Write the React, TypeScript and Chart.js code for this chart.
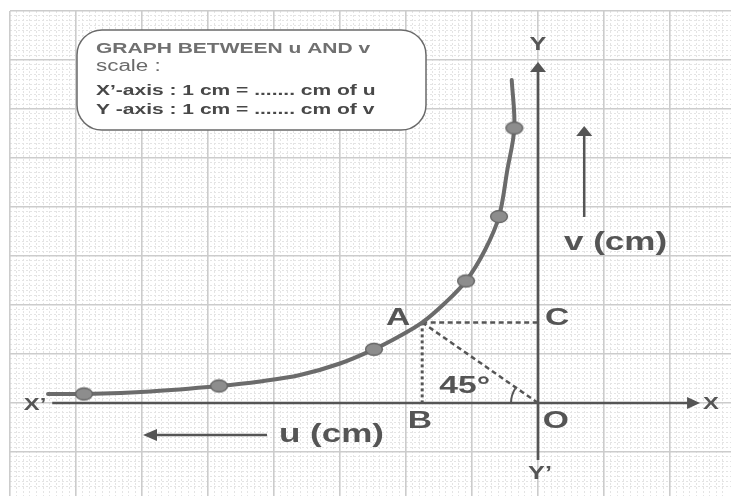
import { useEffect, useRef } from "react";
import { Chart, registerables } from "chart.js";

Chart.register(...registerables);

// ---- axis ranges (1 unit = one major grid square) ----
const X_MIN = -8;
const X_MAX = 2.924;
const Y_MIN = -1.898;
const Y_MAX = 8;

// ---- the u–v curve ----
const curveU = [-7.424, -6.879, -5.879, -4.833, -4.212, -3.606, -3.0, -2.485, -2.121, -1.758, -1.409, -1.091, -0.803, -0.591, -0.465, -0.359, -0.398];
const curveV = [0.184, 0.184, 0.235, 0.347, 0.439, 0.571, 0.806, 1.096, 1.347, 1.639, 2.041, 2.49, 3.122, 3.806, 4.755, 5.612, 6.592];

// ---- plotted observation points ----
const dotU = [-6.879, -4.833, -2.485, -1.091, -0.591, -0.359];
const dotV = [0.184, 0.347, 1.096, 2.49, 3.806, 5.612];

// ---- construction point A and its projections ----
const pointA = { x: -1.755, y: 1.645 };
const pointB = { x: -1.755, y: 0 };
const pointC = { x: 0, y: 1.645 };
const pointO = { x: 0, y: 0 };

// ---- arrows: [fromU, fromV, toU, toV] ----
const axisXArrow = [-7.36, 0, 2.455, 0];
const axisYArrow = [0, -1.163, 0, 6.96];
const uArrow = [-4.106, -0.653, -5.985, -0.653];
const vArrow = [0.7, 3.796, 0.7, 5.653];

// ---- text labels ----
const labelTexts = ["A", "B", "C", "O", "45°", "X", "X’", "Y", "Y’", "v (cm)", "u (cm)"];
const labelU = [-2.12, -1.79, 0.29, 0.27, -1.11, 2.62, -7.62, 0, 0.03, 1.174, -3.13];
const labelV = [1.73, -0.37, 1.73, -0.37, 0.33, -0.02, -0.04, 7.31, -1.45, 3.265, -0.653];

// ---- info box text ----
const boxLines = [
  "GRAPH BETWEEN u AND v",
  "scale :",
  "X’-axis : 1 cm = ....... cm of u",
  "Y -axis : 1 cm = ....... cm of v",
];

const STRETCH = 1.4;
const INK = "#555555";

function labelFont(t: string): number {
  if (t === "X" || t === "X’") return 17;
  if (t === "Y" || t === "Y’") return 18;
  if (t.includes("cm")) return 25;
  return 24;
}

function drawText(
  ctx: CanvasRenderingContext2D,
  text: string,
  x: number,
  y: number,
  font: string,
  color: string,
  align: CanvasTextAlign,
  baseline: CanvasTextBaseline
) {
  ctx.save();
  ctx.translate(x, y);
  ctx.scale(STRETCH, 1);
  ctx.font = font;
  ctx.fillStyle = color;
  ctx.textAlign = align;
  ctx.textBaseline = baseline;
  ctx.fillText(text, 0, 0);
  ctx.restore();
}

function makeDot(): HTMLCanvasElement {
  const c = document.createElement("canvas");
  c.width = 20;
  c.height = 15;
  const g = c.getContext("2d")!;
  g.beginPath();
  g.ellipse(10, 7.5, 8.4, 6, 0, 0, Math.PI * 2);
  g.fillStyle = "#8d8d8d";
  g.fill();
  g.lineWidth = 1.4;
  g.strokeStyle = "#666666";
  g.stroke();
  return c;
}

const isInt = (v: number, step: number) => {
  const k = v / step;
  return Math.abs(k - Math.round(k)) < 1e-6;
};

export default function App() {
  const ref = useRef<HTMLCanvasElement | null>(null);

  useEffect(() => {
    if (!ref.current) return;
    const dotImg = makeDot();

    const overlay = {
      id: "overlay",
      afterDatasetsDraw(chart: any) {
        const ctx: CanvasRenderingContext2D = chart.ctx;
        const xs = chart.scales.x;
        const ys = chart.scales.y;
        const px = (u: number) => xs.getPixelForValue(u);
        const py = (v: number) => ys.getPixelForValue(v);

        // arrows
        const arrow = (a: number[], headLen: number, headHalf: number, lw: number) => {
          const x1 = px(a[0]), y1 = py(a[1]), x2 = px(a[2]), y2 = py(a[3]);
          const dx = x2 - x1, dy = y2 - y1;
          const len = Math.hypot(dx, dy);
          const ux = dx / len, uy = dy / len;
          const bx = x2 - ux * headLen, by = y2 - uy * headLen;
          ctx.save();
          ctx.strokeStyle = INK;
          ctx.fillStyle = INK;
          ctx.lineWidth = lw;
          ctx.beginPath();
          ctx.moveTo(x1, y1);
          ctx.lineTo(bx + ux * 2, by + uy * 2);
          ctx.stroke();
          ctx.beginPath();
          ctx.moveTo(x2, y2);
          ctx.lineTo(bx - uy * headHalf, by + ux * headHalf);
          ctx.lineTo(bx + uy * headHalf, by - ux * headHalf);
          ctx.closePath();
          ctx.fill();
          ctx.restore();
        };
        arrow(axisXArrow, 13, 6, 2.7);
        arrow(axisYArrow, 10, 8, 2.7);
        arrow(uArrow, 14, 6, 2.5);
        arrow(vArrow, 10, 8, 2.5);

        // 45° arc at O
        ctx.save();
        ctx.strokeStyle = INK;
        ctx.lineWidth = 2;
        ctx.beginPath();
        ctx.arc(px(pointO.x), py(pointO.y), 27, Math.PI, Math.PI + 0.58);
        ctx.stroke();
        ctx.restore();

        // info box
        const L = 77, T = 30, R = 426, B = 130, rad = 25;
        ctx.save();
        ctx.beginPath();
        ctx.moveTo(L + rad, T);
        ctx.lineTo(R - rad, T);
        ctx.arcTo(R, T, R, T + rad, rad);
        ctx.lineTo(R, B - rad);
        ctx.arcTo(R, B, R - rad, B, rad);
        ctx.lineTo(L + rad, B);
        ctx.arcTo(L, B, L, B - rad, rad);
        ctx.lineTo(L, T + rad);
        ctx.arcTo(L, T, L + rad, T, rad);
        ctx.closePath();
        ctx.fillStyle = "#ffffff";
        ctx.fill();
        ctx.lineWidth = 1.5;
        ctx.strokeStyle = "#6a6a6a";
        ctx.stroke();
        ctx.restore();

        const fam = '"Liberation Sans", Arial, Helvetica, sans-serif';
        drawText(ctx, boxLines[0], 96, 53, `bold 15px ${fam}`, "#707070", "left", "alphabetic");
        drawText(ctx, boxLines[1], 96, 71, `16px ${fam}`, "#6a6a6a", "left", "alphabetic");
        drawText(ctx, boxLines[2], 96, 95, `bold 15px ${fam}`, "#484848", "left", "alphabetic");
        drawText(ctx, boxLines[3], 96, 114, `bold 15px ${fam}`, "#484848", "left", "alphabetic");

        // labels
        labelTexts.forEach((t, i) => {
          drawText(ctx, t, px(labelU[i]), py(labelV[i]), `bold ${labelFont(t)}px ${fam}`, INK, "center", "middle");
        });
      },
    };

    const majorColor = (step: number) => (c: any) =>
      c.tick && isInt(c.tick.value, step) ? "#cccccc" : "rgba(0,0,0,0)";
    const minorColor = (c: any) => {
      if (!c.tick) return "rgba(0,0,0,0)";
      const v = c.tick.value;
      if (!isInt(v, 0.1)) return "rgba(0,0,0,0)";
      if (isInt(v, 1)) return "rgba(0,0,0,0)";
      return "#e4e4e4";
    };

    const chart = new Chart(ref.current, {
      type: "scatter",
      data: {
        datasets: [
          {
            data: dotU.map((u, i) => ({ x: u, y: dotV[i] })),
            pointStyle: dotImg as any,
            pointRadius: 8,
            showLine: false,
            order: 0,
          },
          {
            data: curveU.map((u, i) => ({ x: u, y: curveV[i] })),
            showLine: true,
            tension: 0.35,
            borderColor: "#6b6b6b",
            borderWidth: 4,
            borderCapStyle: "round",
            borderJoinStyle: "round",
            pointRadius: 0,
            fill: false,
            order: 1,
          },
          {
            data: [pointA, pointC],
            showLine: true,
            borderColor: INK,
            borderWidth: 2.5,
            borderDash: [5, 3.5],
            pointRadius: 0,
            order: 2,
          },
          {
            data: [pointA, pointB],
            showLine: true,
            borderColor: INK,
            borderWidth: 3,
            borderDash: [3, 3],
            pointRadius: 0,
            order: 2,
          },
          {
            data: [pointA, pointO],
            showLine: true,
            borderColor: INK,
            borderWidth: 2.5,
            borderDash: [5, 3.5],
            pointRadius: 0,
            order: 2,
          },
        ],
      },
      options: {
        responsive: false,
        animation: false,
        events: [],
        devicePixelRatio: 1,
        layout: { autoPadding: false, padding: { left: 10, top: 11, right: 0, bottom: 0 } },
        plugins: {
          legend: { display: false },
          tooltip: { enabled: false },
        },
        scales: {
          xm: {
            type: "linear",
            axis: "x",
            position: "bottom",
            min: X_MIN,
            max: X_MAX,
            ticks: { display: false, stepSize: 0.1 },
            grid: { color: minorColor, lineWidth: 1, drawTicks: false },
            border: { display: false, dash: [2, 2] },
          },
          ym: {
            type: "linear",
            axis: "y",
            position: "left",
            min: Y_MIN,
            max: Y_MAX,
            ticks: { display: false, stepSize: 0.1 },
            grid: { color: minorColor, lineWidth: 1, drawTicks: false },
            border: { display: false, dash: [2, 2] },
          },
          x: {
            type: "linear",
            position: "bottom",
            min: X_MIN,
            max: X_MAX,
            ticks: { display: false, stepSize: 1 },
            grid: { color: majorColor(1), lineWidth: 1.6, drawTicks: false },
            border: { display: false },
          },
          y: {
            type: "linear",
            position: "left",
            min: Y_MIN,
            max: Y_MAX,
            ticks: { display: false, stepSize: 1 },
            grid: { color: majorColor(1), lineWidth: 1.6, drawTicks: false },
            border: { display: false },
          },
        } as any,
      },
      plugins: [overlay],
    });

    return () => chart.destroy();
  }, []);

  return (
    <div style={{ position: "absolute", left: 0, top: 0, width: 731, height: 496, background: "#ffffff" }}>
      <canvas ref={ref} width={731} height={496} style={{ display: "block" }} />
    </div>
  );
}
